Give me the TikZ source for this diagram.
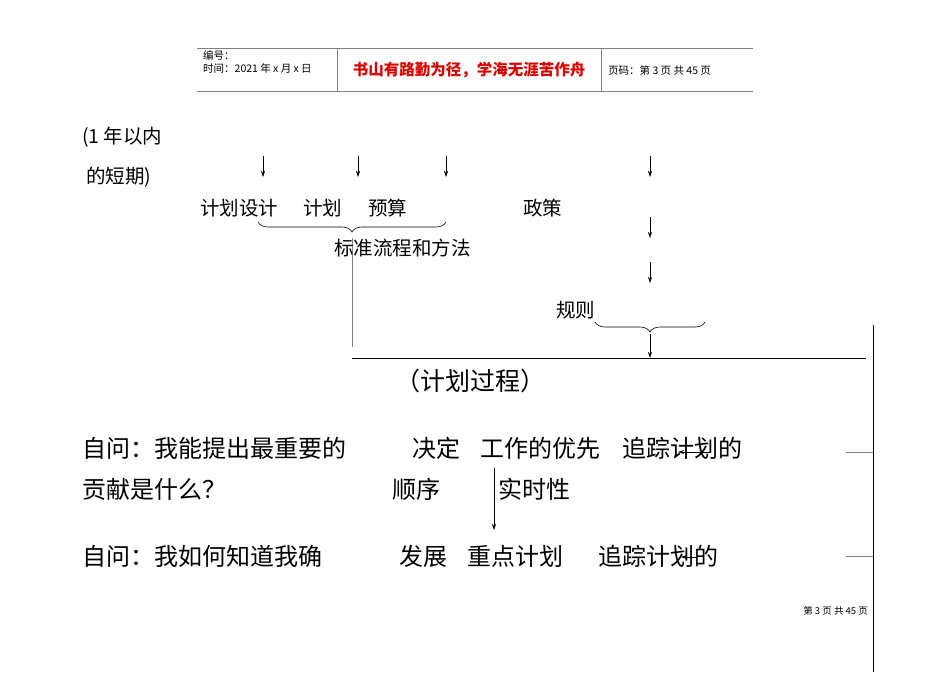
\documentclass[tikz,border=0pt]{standalone}
\usepackage{fontspec}
\setmainfont{Liberation Sans}
\newfontfamily\cjk{Noto Sans CJK SC}
\usetikzlibrary{decorations.pathreplacing,arrows.meta}
\begin{document}
\begin{tikzpicture}[x=1pt,y=-1pt,
  t/.style={font=\cjk\fontsize{19.5}{19.5}\selectfont,inner sep=0pt,anchor=west},
  tb/.style={font=\cjk\fontsize{24}{24}\selectfont,inner sep=0pt,anchor=west},
  small/.style={font=\cjk\fontsize{10.5}{10.5}\selectfont,inner sep=0pt,anchor=west},
  arr/.style={-{Stealth[length=6pt,width=4pt]},line width=0.6pt},
  gl/.style={draw=gray,line width=1pt},
  br/.style={decorate,decoration={brace,amplitude=10pt,mirror},line width=0.6pt}]
\useasboundingbox (0,0) rectangle (950,672);
% header
\draw[gl] (197,48) -- (753,48);
\draw[gl] (197,91) -- (753,91);
\draw[gl] (337,48) -- (337,91);
\draw[gl] (601,48) -- (601,91);
\node[small] (h1) at (203,55) {编号：};
\node[small] (h2) at (203,68) {时间：2021 年 x 月 x 日};
\node[font=\cjk\bfseries\fontsize{15.5}{15.5}\selectfont,text=red!85!black,inner sep=0pt] (h3) at (469,70) {书山有路勤为径，学海无涯苦作舟};
\node[small] (h4) at (608,70) {页码：第 3 页 共 45 页};
% left
\node[t] (a1) at (82,137) {(1 年以内};
\node[t] (a2) at (86,177) {的短期)};
% arrows top
\foreach \x/\n in {263/p1,358/p2,446/p3,650/p4}{
  \coordinate (\n s) at (\x,156); \coordinate (\n e) at (\x,177);
  \draw[arr] (\n s) -- (\n e);}
\node[t] (b1) at (200,208) {计划设计};
\node[t] (b2) at (303,208) {计划};
\node[t] (b3) at (368,208) {预算};
\node[t] (b4) at (523,208) {政策};
\coordinate (q1s) at (650,217); \coordinate (q1e) at (650,238);
\coordinate (q2s) at (650,262); \coordinate (q2e) at (650,283);
\draw[arr] (q1s) -- (q1e);
\draw[arr] (q2s) -- (q2e);
\coordinate (br1a) at (258,222); \coordinate (br1b) at (446,222);
\draw[br] (br1a) -- (br1b);
\coordinate (v1a) at (352,238); \coordinate (v1b) at (352,347);
\draw[gl] (v1a) -- (v1b);
\node[t] (c1) at (334,248) {标准流程和方法};
\node[t] (c2) at (556,310) {规则};
\coordinate (br2a) at (595,322); \coordinate (br2b) at (705,322);
\draw[br] (br2a) -- (br2b);
\coordinate (r1) at (650,334); \coordinate (r2) at (650,358);
\draw[arr] (r1) -- (r2);
\coordinate (hl1) at (352,358); \coordinate (hl2) at (866,358);
\draw[line width=0.7pt] (hl1) -- (hl2);
\node[font=\cjk\fontsize{25}{25}\selectfont,inner sep=0pt] (d0) at (470,381) {（计划过程）};
% questions
\node[tb] (e1) at (82,448) {自问：我能提出最重要的};
\node[tb] (e2) at (82,489) {贡献是什么？};
\node[tb] (e3) at (412,448) {决定};
\node[tb] (e4) at (480,448) {工作的优先};
\node[tb] (e5) at (622,448) {追踪计划的};
\node[tb] (e6) at (392,489) {顺序};
\node[tb] (e7) at (498,489) {实时性};
\coordinate (f1) at (494,468); \coordinate (f2) at (494,530);
\draw[arr] (f1) -- (f2);
\node[tb] (g1) at (82,556) {自问：我如何知道我确};
\node[tb] (g2) at (399,556) {发展};
\node[tb] (g3) at (467,556) {重点计划};
\node[tb] (g4) at (598,556) {追踪计划的};
\coordinate (k1) at (711,452); \coordinate (k2) at (678,452);
\draw[arr] (k1) -- (k2);
\coordinate (k3) at (696,557); \coordinate (k4) at (681,557);
\draw[arr] (k3) -- (k4);
% right lines
\coordinate (m1) at (873,325); \coordinate (m2) at (873,672);
\draw[line width=0.7pt] (m1) -- (m2);
\coordinate (n1) at (846,452); \coordinate (n2) at (846,556);
\draw[gl] (n1) -- (m1 |- n1);
\draw[gl] (n2) -- (m1 |- n2);
\node[font=\cjk\fontsize{9.5}{9.5}\selectfont,inner sep=0pt,anchor=east] (ft) at (868,611) {第 3 页 共 45 页};
\end{tikzpicture}
\end{document}
